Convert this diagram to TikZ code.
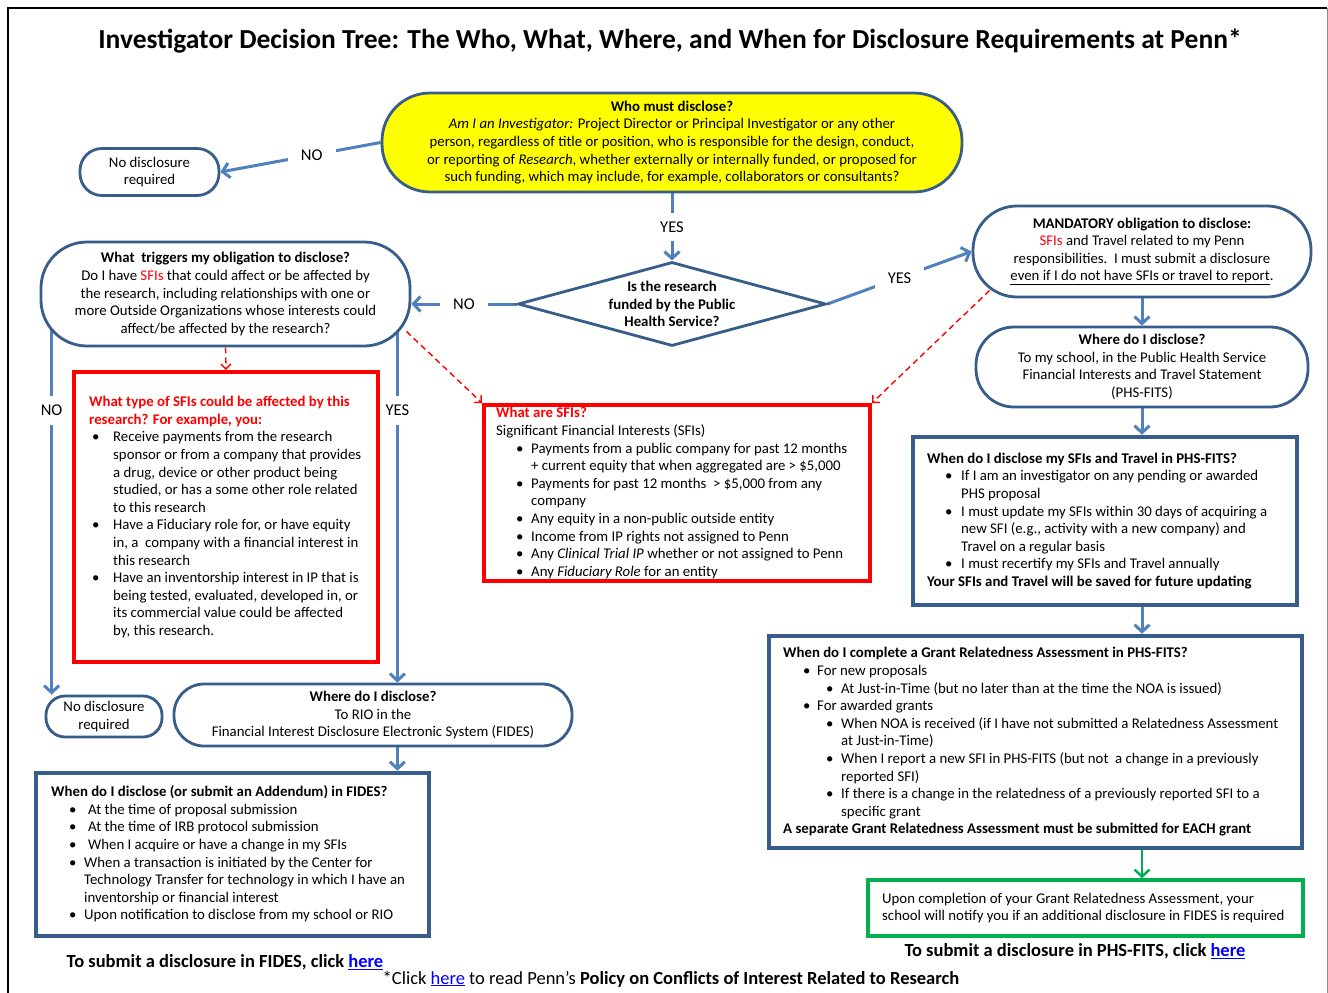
\documentclass[tikz,border=0pt]{standalone}
\usepackage{fontspec}
\setmainfont{Carlito}
\usetikzlibrary{arrows.meta,shapes.geometric,calc}
\definecolor{boxblue}{HTML}{385D8A}
\definecolor{arrblue}{HTML}{4F81BD}
\definecolor{sfired}{HTML}{FF0000}
\definecolor{okgreen}{HTML}{00B050}
\definecolor{hiyellow}{HTML}{FFFF00}
\definecolor{linkblue}{HTML}{0000FF}
\pgfdeclarelayer{bg}
\pgfsetlayers{bg,main}
\newcommand{\lnk}[1]{\textcolor{linkblue}{\underline{#1}}}
\newcommand{\bpt}[2]{\hspace*{#1}\makebox[#2][l]{\textbullet}}
\newcommand{\sfi}[1]{\textcolor{sfired}{#1}}
\tikzset{
  stad/.style={draw=boxblue,line width=2.8pt,fill=white,inner sep=0pt,align=center},
  rbox/.style={draw=boxblue,line width=4.5pt,fill=white,inner sep=0pt},
  redbox/.style={draw=sfired,line width=4pt,fill=white,inner sep=0pt},
  grnbox/.style={draw=okgreen,line width=3.5pt,fill=white,inner sep=0pt},
  txt/.style={inner sep=0pt,align=left,anchor=west},
  conn/.style={draw=arrblue,line width=3pt,-{Straight Barb[length=7pt,width=15pt]}},
  lbl/.style={fill=white,inner xsep=13pt,inner ysep=9pt,font=\fontsize{16.5}{19}\selectfont},
  reddash/.style={draw=sfired,line width=1.4pt,dash pattern=on 6pt off 4pt,-{Straight Barb[length=5pt,width=10pt]}},
  foot/.style={inner sep=0pt,font=\fontsize{18.5}{21}\selectfont}
}
\begin{document}
\begin{tikzpicture}[x=1pt,y=-1pt,font=\fontsize{14.8}{17.6}\selectfont]
\useasboundingbox (0,0) rectangle (1328,993);
\draw[black,line width=2.5pt] (8,993) -- (8,8) -- (1327,8);
\draw[black!45,line width=1pt] (1327,8) -- (1327,993);

\node (title) at (670,41) {\fontsize{27.5}{31}\selectfont\bfseries Investigator Decision Tree: The Who, What, Where, and When for Disclosure Requirements at Penn*};

% top question
\node[stad,fill=hiyellow,rounded corners=48pt,minimum width=580pt,minimum height=99pt] (who) at (672,142.5)
{\textbf{Who must disclose?}\\
\textit{Am I an Investigator:} Project Director or Principal Investigator or any other\\
person, regardless of title or position, who is responsible for the design, conduct,\\
or reporting of \textit{Research}, whether externally or internally funded, or proposed for\\
such funding, which may include, for example, collaborators or consultants?};

\node[stad,rounded corners=22pt,minimum width=139pt,minimum height=47pt] (nd1) at (149.5,172) {No disclosure\\required};

\node[draw=boxblue,line width=2.8pt,fill=white,shape=diamond,inner sep=0pt,minimum width=308pt,minimum height=84pt] (dia) at (672,304) {};
\node[inner sep=0pt,align=center] (diaT) at (dia.center) {\textbf{Is the research}\\\textbf{funded by the Public}\\\textbf{Health Service?}};

\node[stad,rounded corners=46pt,minimum width=369pt,minimum height=104pt] (trig) at (225.5,294)
{\textbf{What\ \ triggers my obligation to disclose?}\\
Do I have \sfi{SFIs} that could affect or be affected by\\
the research, including relationships with one or\\
more Outside Organizations whose interests could\\
affect/be affected by the research?};

\node[stad,rounded corners=44pt,minimum width=338pt,minimum height=91pt] (mand) at (1142,251.5)
{\textbf{MANDATORY obligation to disclose:}\\
\sfi{SFIs} and Travel related to my Penn\\
responsibilities.\ \ I must submit a disclosure\\
\underline{even if I do not have SFIs or travel to report}.};

\node[stad,rounded corners=38pt,minimum width=332pt,minimum height=80pt] (where2) at (1142,367)
{\textbf{Where do I disclose?}\\
To my school, in the Public Health Service\\
Financial Interests and Travel Statement\\
(PHS-FITS)};

% PHS-FITS when
\node[rbox,minimum width=384pt,minimum height=168pt] (phs) at (1105,521) {};
\node[txt] (phsT) at (927,521)
{\textbf{When do I disclose my SFIs and Travel in PHS-FITS?}\\
\bpt{18pt}{16pt}If I am an investigator on any pending or awarded\\
\hspace*{34pt}PHS proposal\\
\bpt{18pt}{16pt}I must update my SFIs within 30 days of acquiring a\\
\hspace*{34pt}new SFI (e.g., activity with a new company) and\\
\hspace*{34pt}Travel on a regular basis\\
\bpt{18pt}{16pt}I must recertify my SFIs and Travel annually\\
\textbf{Your SFIs and Travel will be saved for future updating}};

% Grant relatedness
\node[rbox,minimum width=533pt,minimum height=212pt] (grant) at (1035.5,742) {};
\node[txt] (grantT) at (783,742)
{\textbf{When do I complete a Grant Relatedness Assessment in PHS-FITS?}\\
\bpt{20pt}{14pt}For new proposals\\
\bpt{43pt}{15pt}At Just-in-Time (but no later than at the time the NOA is issued)\\
\bpt{20pt}{14pt}For awarded grants\\
\bpt{43pt}{15pt}When NOA is received (if I have not submitted a Relatedness Assessment\\
\hspace*{58pt}at Just-in-Time)\\
\bpt{43pt}{15pt}When I report a new SFI in PHS-FITS (but not\ \ a change in a previously\\
\hspace*{58pt}reported SFI)\\
\bpt{43pt}{15pt}If there is a change in the relatedness of a previously reported SFI to a\\
\hspace*{58pt}specific grant\\
\textbf{A separate Grant Relatedness Assessment must be submitted for EACH grant}};

\node[grnbox,minimum width=435pt,minimum height=56pt] (green) at (1085.5,908) {};
\node[txt] (greenT) at (882,908)
{Upon completion of your Grant Relatedness Assessment, your\\
school will notify you if an additional disclosure in FIDES is required};

% red boxes
\node[redbox,minimum width=304pt,minimum height=290pt] (redL) at (226,517) {};
\node[txt] (redLT) at (89,517)
{\textcolor{sfired}{\bfseries What type of SFIs could be affected by this}\\
\textcolor{sfired}{\bfseries research? For example, you:}\\
\bpt{3pt}{21pt}Receive payments from the research\\
\hspace*{24pt}sponsor or from a company that provides\\
\hspace*{24pt}a drug, device or other product being\\
\hspace*{24pt}studied, or has a some other role related\\
\hspace*{24pt}to this research\\
\bpt{3pt}{21pt}Have a Fiduciary role for, or have equity\\
\hspace*{24pt}in, a\ \ company with a financial interest in\\
\hspace*{24pt}this research\\
\bpt{3pt}{21pt}Have an inventorship interest in IP that is\\
\hspace*{24pt}being tested, evaluated, developed in, or\\
\hspace*{24pt}its commercial value could be affected\\
\hspace*{24pt}by, this research.};

\node[redbox,minimum width=386pt,minimum height=176pt] (midR) at (677,493) {};
\node[txt] (midRT) at (496,493)
{\textcolor{sfired}{\bfseries What are SFIs?}\\
Significant Financial Interests (SFIs)\\
\bpt{20pt}{15pt}Payments from a public company for past 12 months\\
\hspace*{35pt}+ current equity that when aggregated are > \$5,000\\
\bpt{20pt}{15pt}Payments for past 12 months\ \ > \$5,000 from any\\
\hspace*{35pt}company\\
\bpt{20pt}{15pt}Any equity in a non-public outside entity\\
\bpt{20pt}{15pt}Income from IP rights not assigned to Penn\\
\bpt{20pt}{15pt}Any \textit{Clinical Trial IP} whether or not assigned to Penn\\
\bpt{20pt}{15pt}Any \textit{Fiduciary Role} for an entity};

% lower left
\node[stad,rounded corners=19pt,minimum width=116pt,minimum height=41pt] (nd2) at (104,716.5) {No disclosure\\required};

\node[stad,rounded corners=30pt,minimum width=398pt,minimum height=62pt] (fides) at (373,715)
{\textbf{Where do I disclose?}\\
To RIO in the\\
Financial Interest Disclosure Electronic System (FIDES)};

\node[rbox,minimum width=393pt,minimum height=163pt] (fwhen) at (232.5,854.5) {};
\node[txt] (fwhenT) at (51,854)
{\textbf{When do I disclose (or submit an Addendum) in FIDES?}\\
\bpt{18pt}{19pt}At the time of proposal submission\\
\bpt{18pt}{19pt}At the time of IRB protocol submission\\
\bpt{18pt}{19pt}When I acquire or have a change in my SFIs\\
\bpt{18pt}{15pt}When a transaction is initiated by the Center for\\
\hspace*{33pt}Technology Transfer for technology in which I have an\\
\hspace*{33pt}inventorship or financial interest\\
\bpt{18pt}{15pt}Upon notification to disclose from my school or RIO};

% footers
\node[foot] (fidesLink) at (225,962) {\textbf{To submit a disclosure in FIDES, click \lnk{here}}};
\node[foot] (phsLink) at (1075,951) {\textbf{To submit a disclosure in PHS-FITS, click \lnk{here}}};
\node[foot] (policy) at (671,979) {*Click \lnk{here} to read Penn’s \textbf{Policy on Conflicts of Interest Related to Research}};

\coordinate (noTop) at ($(trig.west)+(12,0)$);
\coordinate (yesTop) at ($(trig.east)+(-14,0)$);

\begin{pgfonlayer}{bg}
\draw[conn] (who.west) -- node[lbl,pos=0.43]{NO} (nd1.east);
\draw[conn] (who.south) -- node[lbl]{YES} (dia.north);
\draw[conn] (dia.west) -- node[lbl]{NO} (dia.west -| trig.east);
\draw[conn] (dia.east) -- node[lbl]{YES} (mand.west);
\draw[conn] (mand.south) -- (where2.north);
\draw[conn] (where2.south) -- (where2.south |- phs.north);
\draw[conn] (where2.south |- phs.south) -- (where2.south |- grant.north);
\draw[conn,draw=okgreen,line width=2.5pt] (where2.south |- grant.south) -- (where2.south |- green.north);
\draw[conn] (noTop) -- node[lbl,pos=0.29]{NO} (noTop |- nd2.north);
\draw[conn] (yesTop) -- node[lbl,pos=0.3]{YES} (yesTop |- fides.north);
\draw[conn] (yesTop |- fides.south) -- (yesTop |- fwhen.north);
\draw[reddash] (trig.south) -- (redL.north);
\draw[reddash] ($(trig.south east)+(-5,-16)$) -- (midR.north west);
\draw[reddash] ($(mand.south west)+(18,-8)$) -- (midR.north east);
\end{pgfonlayer}
\end{tikzpicture}
\end{document}
